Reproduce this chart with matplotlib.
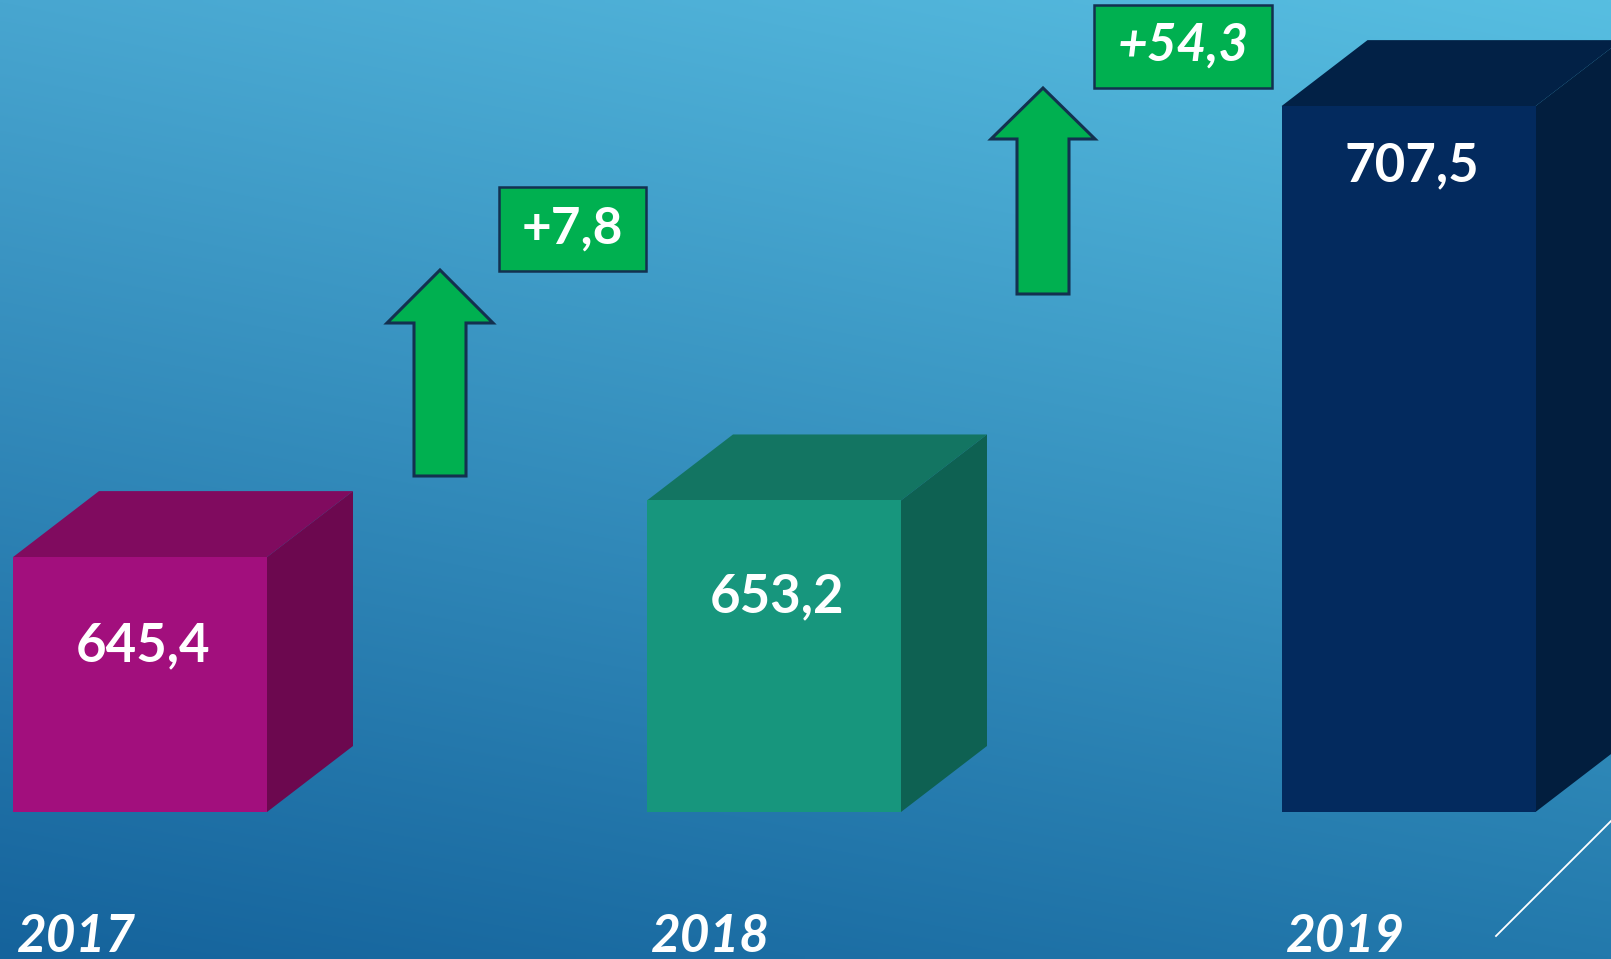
import numpy as np
import matplotlib
matplotlib.use('Agg')
import matplotlib.pyplot as plt
from matplotlib.patches import Polygon, Rectangle
from matplotlib.transforms import blended_transform_factory

# --- data ---
years = ['2017', '2018', '2019']
values = [645.4, 653.2, 707.5]
deltas = [round(values[i + 1] - values[i], 1) for i in range(len(values) - 1)]

front_colors = ['#A20F7D', '#17967D', '#032A5E']
top_colors = ['#800B5F', '#137562', '#022146']
side_colors = ['#6C084F', '#0E6152', '#021E3E']

W, H = 1611, 959
fig = plt.figure(figsize=(W / 100, H / 100), dpi=100)
ax = fig.add_axes([0, 0, 1, 1])
ax.axis('off')

# y axis: truncated scale, bottom of bars at 'base'
px_per_unit = 7.262
base = 610.3
floor_px = 812
ax.set_xlim(0, W)
ax.set_ylim(base - (H - floor_px) / px_per_unit, base + floor_px / px_per_unit)


def fig_xy(x, y):
    # pixel coords (from top-left) -> figure fraction
    return (x / W, 1 - y / H)


# background gradient
gy, gx = np.mgrid[0:1:200j, 0:1:300j]
tl = np.array([0x48, 0xA6, 0xD0]) / 255
tr = np.array([0x57, 0xBE, 0xE1]) / 255
bl = np.array([0x15, 0x63, 0x9C]) / 255
br = np.array([0x23, 0x79, 0xAC]) / 255
img = (tl * ((1 - gx) * (1 - gy))[..., None] + tr * (gx * (1 - gy))[..., None]
       + bl * ((1 - gx) * gy)[..., None] + br * (gx * gy)[..., None])
bg = fig.add_axes([0, 0, 1, 1], zorder=-1)
bg.imshow(img, aspect='auto', extent=[0, 1, 0, 1], interpolation='bilinear')
bg.axis('off')
ax.patch.set_alpha(0)

# 3D cubes
centers = [140, 774, 1408.5]
width = 254
dx = 86
dy = 66 / px_per_unit
heights = [v - base for v in values]
bars = ax.bar(centers, heights, width=width, bottom=base, color=front_colors,
              edgecolor='none', zorder=3)
for bar, tc, sc in zip(bars, top_colors, side_colors):
    x0 = bar.get_x()
    x1 = x0 + bar.get_width()
    top = bar.get_y() + bar.get_height()
    ax.add_patch(Polygon([(x0, top), (x1, top), (x1 + dx, top + dy), (x0 + dx, top + dy)],
                         closed=True, facecolor=tc, edgecolor='none', zorder=2))
    ax.add_patch(Polygon([(x1, base), (x1 + dx, base + dy), (x1 + dx, top + dy), (x1, top)],
                         closed=True, facecolor=sc, edgecolor='none', zorder=2))

# value labels on the front faces
label_drop = [89, 96, 60]  # px below the top edge
for bar, v, drop in zip(bars, values, label_drop):
    cx = bar.get_x() + bar.get_width() / 2 + 3
    top = bar.get_y() + bar.get_height()
    ax.text(cx, top - drop / px_per_unit, f'{v:.1f}'.replace('.', ','),
            ha='center', va='center', color='white', fontsize=38,
            fontweight='bold', family='Lato', zorder=4)

# year labels along the bottom
trans = blended_transform_factory(ax.transData, fig.transFigure)
for bar, yr in zip(bars, years):
    ax.text(bar.get_x() + 4, 1 - 938 / H, yr, transform=trans, ha='left', va='center',
            color='white', fontsize=37, fontweight='bold', style='italic',
            family='Lato', zorder=4)

# growth arrows and boxes
green = '#00B050'
edge = '#13304F'
arrows = [dict(cx=440, tip=270, head=323, hw=53, sw=26, bottom=476),
          dict(cx=1043, tip=88, head=139, hw=52, sw=26, bottom=294)]
boxes = [(499, 187, 646, 271), (1094, 5, 1272, 88)]
for a, (bx0, by0, bx1, by1), d, it in zip(arrows, boxes, deltas, ['normal', 'italic']):
    c = a['cx']
    pts = [(c, a['tip']), (c + a['hw'], a['head']), (c + a['sw'], a['head']),
           (c + a['sw'], a['bottom']), (c - a['sw'], a['bottom']), (c - a['sw'], a['head']),
           (c - a['hw'], a['head'])]
    fig.patches.append(Polygon([fig_xy(*p) for p in pts], closed=True, facecolor=green,
                               edgecolor=edge, linewidth=2.2, transform=fig.transFigure,
                               zorder=5))
    x0, y0 = fig_xy(bx0, by1)
    fig.patches.append(Rectangle((x0, y0), (bx1 - bx0) / W, (by1 - by0) / H,
                                 facecolor=green, edgecolor=edge, linewidth=1.8,
                                 transform=fig.transFigure, zorder=5))
    tx, ty = fig_xy((bx0 + bx1) / 2, (by0 + by1) / 2)
    fig.text(tx, ty, f'+{d:.1f}'.replace('.', ','), ha='center', va='center',
             color='white', fontsize=37, fontweight='bold', style=it, family='Lato',
             zorder=6)

# thin decorative line at bottom right
(lx0, ly0), (lx1, ly1) = fig_xy(1496, 936), fig_xy(1630, 802)
fig.add_artist(plt.Line2D([lx0, lx1], [ly0, ly1], transform=fig.transFigure,
                          color='white', linewidth=1.3, zorder=6))

fig.savefig('out.png', dpi=100)
